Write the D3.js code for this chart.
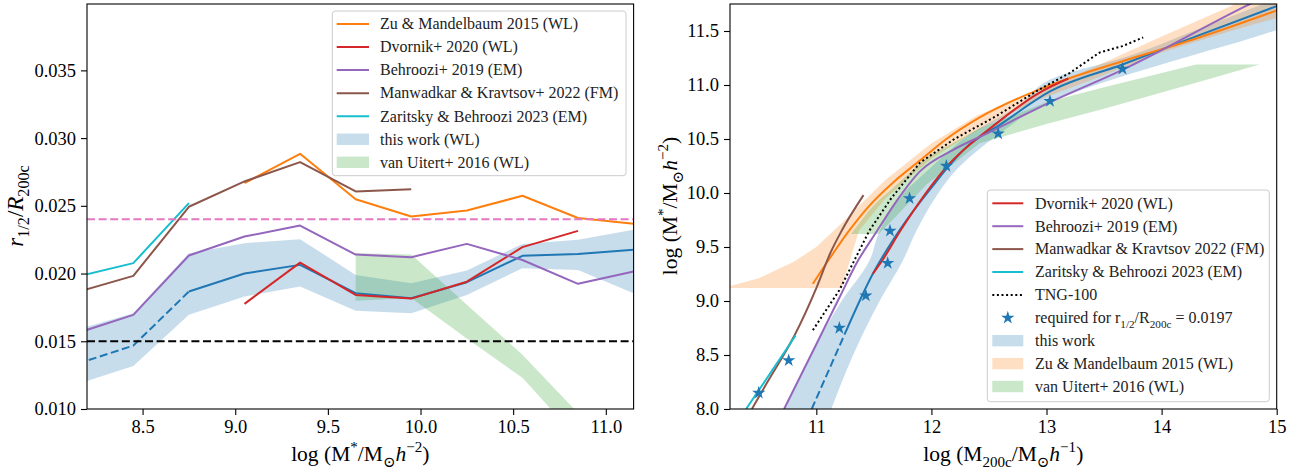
<!DOCTYPE html>
<html>
<head>
<meta charset="utf-8">
<script src="https://cdn.jsdelivr.net/npm/d3@7"></script>
<style>
  body { margin: 0; background: #fff; }
  svg { display: block; font-family: "Liberation Serif", "DejaVu Serif", serif; }
</style>
</head>
<body>
<svg id="chart" width="1299" height="472"></svg>
<script>
// ---------- left panel: half-mass radius ratio vs stellar mass ----------
const massBins        = [8.15, 8.45, 8.75, 9.05, 9.35, 9.65, 9.95, 10.25, 10.55, 10.85, 11.15];
const thisWorkRatio   = [0.01335, 0.01468, 0.01867, 0.0200, 0.02064, 0.01855, 0.01818, 0.01936, 0.02131, 0.02145, 0.02175];
const thisWorkRatioLo = [0.01185, 0.01318, 0.01695, 0.0183, 0.01904, 0.01726, 0.01707, 0.01842, 0.0204, 0.02027, 0.01855];
const thisWorkRatioHi = [0.01588, 0.01707, 0.0215, 0.02224, 0.02254, 0.0199, 0.01929, 0.02022, 0.02219, 0.02249, 0.02323];
const behrooziRatio   = [0.01562, 0.01695, 0.02133, 0.02273, 0.02354, 0.0214, 0.02121, 0.02219, 0.0210, 0.01924, 0.02015];
const zaritskyMass    = [8.15, 8.45, 8.75];
const zaritskyRatio   = [0.01979, 0.02077, 0.0252];
const manwadkarMass   = [8.15, 8.45, 8.75, 9.05, 9.35, 9.65, 9.95];
const manwadkarRatio  = [0.01865, 0.01983, 0.02493, 0.0268, 0.02823, 0.02606, 0.02623];
const zuMass          = [9.05, 9.35, 9.65, 9.95, 10.25, 10.55, 10.85, 11.15];
const zuRatio         = [0.02668, 0.02884, 0.02549, 0.02421, 0.02465, 0.02574, 0.0241, 0.02367];
const dvornikMass     = [9.05, 9.35, 9.65, 9.95, 10.25, 10.55, 10.85];
const dvornikRatio    = [0.01776, 0.02081, 0.01842, 0.01815, 0.0194, 0.02195, 0.02315];
const vanUitertMass   = [9.65, 9.95, 10.25, 10.55, 10.85];
const vanUitertLo     = [0.0180, 0.0182, 0.0152, 0.0123, 0.0078];
const vanUitertHi     = [0.0215, 0.0214, 0.0177, 0.0140, 0.0097];
const referenceRatios = [0.024, 0.015];   // pink and black dashed levels
const leftXTicks = [8.5, 9.0, 9.5, 10.0, 10.5, 11.0];
const leftYTicks = [0.010, 0.015, 0.020, 0.025, 0.030, 0.035];
const leftLegendLabels = ["Zu & Mandelbaum 2015 (WL)", "Dvornik+ 2020 (WL)", "Behroozi+ 2019 (EM)",
  "Manwadkar & Kravtsov+ 2022 (FM)", "Zaritsky & Behroozi 2023 (EM)", "this work (WL)", "van Uitert+ 2016 (WL)"];

// ---------- right panel: stellar-to-halo mass relation ----------
const twHalo      = [10.96, 11.27, 11.49, 11.72, 12.0, 12.3, 12.62, 13.03, 13.66, 14.3, 15.0];
const twStellar   = [8.0, 8.75, 9.25, 9.65, 10.05, 10.42, 10.65, 10.94, 11.19, 11.45, 11.73];
const twBandStellar = [8.0, 8.5, 9.0, 9.37, 9.65, 9.95, 10.24, 10.54, 10.8, 11.08, 11.25, 11.51, 11.8];
const twBandHaloLo  = [10.73, 10.95, 11.22, 11.46, 11.55, 11.72, 12.0, 12.33, 12.75, 13.1, 13.66, 14.3, 15.0];
const twBandHaloHi  = [11.13, 11.32, 11.55, 11.75, 11.87, 12.03, 12.24, 12.58, 12.95, 13.66, 14.19, 15.0, 15.6];
const dvHalo      = [11.49, 11.57, 11.73, 12.13, 12.56, 12.94, 13.19];
const dvStellar   = [9.25, 9.37, 9.65, 10.24, 10.64, 10.93, 11.06];
const beHalo      = [10.72, 11.0, 11.2, 11.36, 11.51, 11.7, 11.9, 12.19, 12.48, 13.03, 13.66, 14.73, 15.0];
const beStellar   = [8.0, 8.6, 9.03, 9.37, 9.62, 9.93, 10.2, 10.4, 10.55, 10.84, 11.14, 11.73, 11.87];
const maHalo      = [10.44, 10.57, 10.81, 11.0, 11.12, 11.22, 11.41];
const maStellar   = [8.0, 8.24, 8.68, 9.12, 9.44, 9.65, 9.98];
const zbHalo      = [10.39, 10.82];
const zbStellar   = [8.0, 8.68];
const tngHalo     = [10.97, 11.2, 11.46, 11.65, 11.9, 12.2, 12.56, 12.94, 13.2, 13.46, 13.66, 13.84];
const tngStellar  = [8.73, 9.1, 9.65, 9.95, 10.28, 10.5, 10.71, 10.96, 11.11, 11.30, 11.36, 11.44];
const zuLineHalo    = [10.97, 11.12, 11.27, 11.45, 11.67, 11.9, 12.13, 12.42, 12.94, 13.19, 13.66, 14.3, 15.0];
const zuLineStellar = [9.16, 9.40, 9.63, 9.87, 10.1, 10.3, 10.5, 10.7, 10.96, 11.06, 11.22, 11.43, 11.69];
const zuBandHalo    = [10.25, 10.5, 10.8, 11.0, 11.15, 11.22, 11.37, 11.6, 12.0, 12.4, 12.9, 13.4, 14.0, 14.6, 15.0];
const zuBandLo      = [9.12, 9.12, 9.12, 9.12, 9.12, 9.12, 9.65, 9.95, 10.32, 10.58, 10.85, 11.05, 11.3, 11.5, 11.62];
const zuBandHi      = [9.14, 9.21, 9.36, 9.50, 9.65, 9.72, 9.88, 10.12, 10.46, 10.72, 10.92, 11.16, 11.45, 11.73, 11.92];
const vuHalo      = [11.30, 11.46, 11.54, 11.67, 11.96, 12.42, 13.0, 13.5, 14.3, 14.85];
const vuLo        = [9.62, 9.62, 9.62, 9.76, 10.08, 10.46, 10.64, 10.78, 11.02, 11.19];
const vuHi        = [9.62, 9.84, 9.93, 10.05, 10.33, 10.6, 10.84, 10.98, 11.19, 11.19];
const starHalo    = [10.50, 10.76, 11.20, 11.43, 11.62, 11.64, 11.81, 12.13, 12.58, 13.03, 13.66];
const starStellar = [8.15, 8.45, 8.75, 9.05, 9.35, 9.65, 9.95, 10.25, 10.55, 10.85, 11.15];
const rightXTicks = [11, 12, 13, 14, 15];
const rightYTicks = [8.0, 8.5, 9.0, 9.5, 10.0, 10.5, 11.0, 11.5];
const rightLegendLabels = ["Dvornik+ 2020 (WL)", "Behroozi+ 2019 (EM)", "Manwadkar & Kravtsov 2022 (FM)",
  "Zaritsky & Behroozi 2023 (EM)", "TNG-100", "required for", "this work", "Zu & Mandelbaum 2015 (WL)", "van Uitert+ 2016 (WL)"];

// matplotlib tab10 colours
const C = { blue: "#1f77b4", orange: "#ff7f0e", green: "#2ca02c", red: "#d62728",
            purple: "#9467bd", brown: "#8c564b", pink: "#e377c2", cyan: "#17becf" };
const BAND_ALPHA = 0.25;
const LW = 2;
const LABEL_SIZE = 21.5;

const svg = d3.select("#chart");
const zip = (xs, ys) => xs.map((x, i) => [x, ys[i]]);

// write simple math-like text with sub/superscripts and italics
function richText(sel, parts, size) {
  let shift = 0;
  parts.forEach(p => {
    const ts = sel.append("tspan").text(p.t);
    const target = p.s === "sub" ? 0.28 * size : p.s === "sup" ? -0.42 * size : 0;
    if (target !== shift) ts.attr("dy", target - shift);
    shift = target;
    if (p.s) ts.attr("font-size", size * 0.7);
    if (p.i) ts.attr("font-style", "italic");
  });
}

function drawFrame(g, x, y, xTicks, yTicks, xFmt, yFmt) {
  const [x0, x1] = x.range(), [y1, y0] = y.range();
  const ax = g.append("g").attr("transform", `translate(0,${y1})`)
    .call(d3.axisBottom(x).tickValues(xTicks).tickFormat(xFmt).tickSize(6).tickPadding(5));
  const ay = g.append("g").attr("transform", `translate(${x0},0)`)
    .call(d3.axisLeft(y).tickValues(yTicks).tickFormat(yFmt).tickSize(6).tickPadding(5));
  [ax, ay].forEach(a => {
    a.select(".domain").remove();
    a.selectAll("line").attr("stroke", "#000").attr("stroke-width", 1.1);
    a.selectAll("text").attr("font-size", 18.5).attr("fill", "#000")
      .attr("font-family", "Liberation Serif, DejaVu Serif, serif");
  });
  g.append("rect").attr("x", x0).attr("y", y0).attr("width", x1 - x0).attr("height", y1 - y0)
    .attr("fill", "none").attr("stroke", "#000").attr("stroke-width", 1.1);
}

function clipFor(id, x, y) {
  const [x0, x1] = x.range(), [y1, y0] = y.range();
  svg.append("defs").append("clipPath").attr("id", id)
    .append("rect").attr("x", x0).attr("y", y0).attr("width", x1 - x0).attr("height", y1 - y0);
  return svg.append("g").attr("clip-path", `url(#${id})`);
}

function addLine(g, gen, pts, color, dash) {
  const p = g.append("path").datum(pts).attr("d", gen).attr("fill", "none")
    .attr("stroke", color).attr("stroke-width", LW).attr("stroke-linejoin", "round");
  if (dash) p.attr("stroke-dasharray", dash);
  return p;
}

// ================= LEFT PANEL =================
const xL = d3.scaleLinear().domain([8.2, 11.15]).range([87, 633.6]);
const yL = d3.scaleLinear().domain([0.010, 0.0399]).range([409, 4]);
const gLeft = clipFor("clipLeft", xL, yL);

const bandL = d3.area().x(d => xL(d[0])).y0(d => yL(d[1])).y1(d => yL(d[2]));
const lineL = d3.line().x(d => xL(d[0])).y(d => yL(d[1]));

gLeft.append("path").datum(massBins.map((m, i) => [m, thisWorkRatioLo[i], thisWorkRatioHi[i]]))
  .attr("d", bandL).attr("fill", C.blue).attr("fill-opacity", BAND_ALPHA);
gLeft.append("path").datum(vanUitertMass.map((m, i) => [m, vanUitertLo[i], vanUitertHi[i]]))
  .attr("d", bandL).attr("fill", C.green).attr("fill-opacity", BAND_ALPHA);

const twPts = zip(massBins, thisWorkRatio);
addLine(gLeft, lineL, twPts.slice(0, 3), C.blue, "8,3.6");
addLine(gLeft, lineL, twPts.slice(2), C.blue);
addLine(gLeft, lineL, zip(zuMass, zuRatio), C.orange);
addLine(gLeft, lineL, zip(dvornikMass, dvornikRatio), C.red);
addLine(gLeft, lineL, zip(massBins, behrooziRatio), C.purple);
addLine(gLeft, lineL, zip(manwadkarMass, manwadkarRatio), C.brown);
addLine(gLeft, lineL, zip(zaritskyMass, zaritskyRatio), C.cyan);
addLine(gLeft, lineL, [[8.2, referenceRatios[0]], [11.15, referenceRatios[0]]], C.pink, "8,3.6");
addLine(gLeft, lineL, [[8.2, referenceRatios[1]], [11.15, referenceRatios[1]]], "#000", "8,3.6");

drawFrame(svg.append("g"), xL, yL, leftXTicks, leftYTicks, d3.format(".1f"), d3.format(".3f"));

// axis labels, left panel
richText(svg.append("text").attr("x", 360.3).attr("y", 461).attr("text-anchor", "middle")
  .attr("font-size", LABEL_SIZE), [
  { t: "log (M" }, { t: "*", s: "sup" }, { t: "/M" }, { t: "⊙", s: "sub" }, { t: "h", i: true },
  { t: "−2", s: "sup" }, { t: ")" }], LABEL_SIZE);
richText(svg.append("text").attr("transform", "translate(23,206) rotate(-90)").attr("text-anchor", "middle")
  .attr("font-size", 23), [
  { t: "r", i: true }, { t: "1/2", s: "sub" }, { t: "/" }, { t: "R", i: true }, { t: "200c", s: "sub" }], 23);

// ================= RIGHT PANEL =================
const xR = d3.scaleLinear().domain([10.25, 15]).range([730, 1276.7]);
const yR = d3.scaleLinear().domain([8.0, 11.75]).range([409, 4]);
const gRight = clipFor("clipRight", xR, yR);

const bandRx = d3.area().x(d => xR(d[0])).y0(d => yR(d[1])).y1(d => yR(d[2]));
const bandRy = d3.area().y(d => yR(d[0])).x0(d => xR(d[1])).x1(d => xR(d[2])).curve(d3.curveMonotoneY);
const lineR = d3.line().x(d => xR(d[0])).y(d => yR(d[1])).curve(d3.curveMonotoneX);
const lineRlin = d3.line().x(d => xR(d[0])).y(d => yR(d[1]));

gRight.append("path").datum(twBandStellar.map((s, i) => [s, twBandHaloLo[i], twBandHaloHi[i]]))
  .attr("d", bandRy).attr("fill", C.blue).attr("fill-opacity", BAND_ALPHA);
gRight.append("path").datum(zuBandHalo.map((h, i) => [h, zuBandLo[i], zuBandHi[i]]))
  .attr("d", bandRx).attr("fill", C.orange).attr("fill-opacity", BAND_ALPHA);
gRight.append("path").datum(vuHalo.map((h, i) => [h, vuLo[i], vuHi[i]]))
  .attr("d", bandRx).attr("fill", C.green).attr("fill-opacity", BAND_ALPHA);

const twR = zip(twHalo, twStellar);
addLine(gRight, lineR, twR.slice(0, 2), C.blue, "8,3.6");
addLine(gRight, lineR, twR.slice(1), C.blue);
addLine(gRight, lineR, zip(zuLineHalo, zuLineStellar), C.orange);
addLine(gRight, lineR, zip(dvHalo, dvStellar), C.red);
addLine(gRight, lineR, zip(beHalo, beStellar), C.purple);
addLine(gRight, lineR, zip(maHalo, maStellar), C.brown);
addLine(gRight, lineRlin, zip(zbHalo, zbStellar), C.cyan);
addLine(gRight, lineRlin, zip(tngHalo, tngStellar), "#000", "2,2.6");

const star = d3.symbol().type(d3.symbolStar).size(55);
gRight.selectAll("path.star").data(zip(starHalo, starStellar)).join("path")
  .attr("class", "star").attr("d", star)
  .attr("transform", d => `translate(${xR(d[0])},${yR(d[1])})`).attr("fill", C.blue);

drawFrame(svg.append("g"), xR, yR, rightXTicks, rightYTicks, d3.format("d"), d3.format(".1f"));

richText(svg.append("text").attr("x", 1003.3).attr("y", 461).attr("text-anchor", "middle")
  .attr("font-size", LABEL_SIZE), [
  { t: "log (M" }, { t: "200c", s: "sub" }, { t: "/M" }, { t: "⊙", s: "sub" }, { t: "h", i: true },
  { t: "−1", s: "sup" }, { t: ")" }], LABEL_SIZE);
richText(svg.append("text").attr("transform", "translate(677,206) rotate(-90)").attr("text-anchor", "middle")
  .attr("font-size", LABEL_SIZE), [
  { t: "log (M" }, { t: "*", s: "sup" }, { t: "/M" }, { t: "⊙", s: "sub" }, { t: "h", i: true },
  { t: "−2", s: "sup" }, { t: ")" }], LABEL_SIZE);

// ================= LEGENDS =================
function legend(box, rows, step, labels, handles, sampleX, textX, fontSize) {
  const g = svg.append("g");
  g.append("rect").attr("x", box[0]).attr("y", box[1]).attr("width", box[2] - box[0])
    .attr("height", box[3] - box[1]).attr("rx", 3)
    .attr("fill", "#fff").attr("fill-opacity", 0.8).attr("stroke", "#cccccc").attr("stroke-width", 1);
  labels.forEach((lab, i) => {
    const cy = rows + i * step, h = handles[i];
    if (h.type === "line") {
      const l = g.append("line").attr("x1", sampleX[0]).attr("x2", sampleX[1]).attr("y1", cy).attr("y2", cy)
        .attr("stroke", h.color).attr("stroke-width", LW);
      if (h.dash) l.attr("stroke-dasharray", h.dash);
    } else if (h.type === "band") {
      g.append("rect").attr("x", sampleX[0]).attr("y", cy - 5.7).attr("width", sampleX[1] - sampleX[0])
        .attr("height", 11.4).attr("fill", h.color).attr("fill-opacity", BAND_ALPHA);
    } else if (h.type === "star") {
      g.append("path").attr("d", star).attr("fill", h.color)
        .attr("transform", `translate(${(sampleX[0] + sampleX[1]) / 2},${cy})`);
    }
    const t = g.append("text").attr("x", textX).attr("y", cy + 5.3).attr("font-size", fontSize).attr("fill", "#222");
    if (h.extra) richText(t, [{ t: lab + " r" }, { t: "1/2", s: "sub" }, { t: "/R" }, { t: "200c", s: "sub" },
      { t: " = 0.0197" }], fontSize);
    else t.text(lab);
  });
}

legend([332.3, 11, 626, 175.7], 24, 23.05, leftLegendLabels, [
  { type: "line", color: C.orange }, { type: "line", color: C.red }, { type: "line", color: C.purple },
  { type: "line", color: C.brown }, { type: "line", color: C.cyan },
  { type: "band", color: C.blue }, { type: "band", color: C.green }], [336.7, 369], 380, 16);

legend([987.3, 190, 1269.3, 401.7], 203.3, 22.9, rightLegendLabels, [
  { type: "line", color: C.red }, { type: "line", color: C.purple }, { type: "line", color: C.brown },
  { type: "line", color: C.cyan }, { type: "line", color: "#000", dash: "2,2.6" },
  { type: "star", color: C.blue, extra: true },
  { type: "band", color: C.blue }, { type: "band", color: C.orange }, { type: "band", color: C.green }],
  [992.3, 1023.3], 1035, 16);
</script>
</body>
</html>
